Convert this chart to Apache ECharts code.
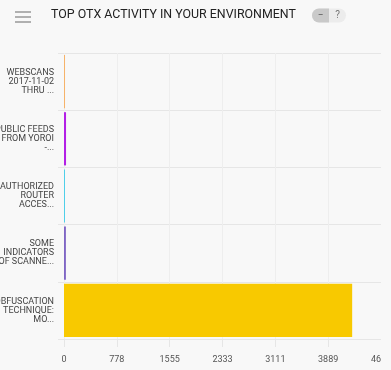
<!DOCTYPE html>
<html>
<head>
<meta charset="utf-8">
<script src="https://cdn.jsdelivr.net/npm/echarts@6/dist/echarts.min.js"></script>
<style>
  html, body { margin: 0; padding: 0; background: #f8f8f8; }
  #wrap { position: absolute; left: 0; top: 0; width: 381px; height: 370px; overflow: hidden; }
  #chart { width: 420px; height: 370px; }
</style>
</head>
<body>
<div id="wrap"><div id="chart"></div></div>
<script>
const categories = [
  "WEBSCANS\n2017-11-02\nTHRU ...",
  "PUBLIC FEEDS\nFROM YOROI\n-...",
  "UNAUTHORIZED\nROUTER\nACCES...",
  "SOME\nINDICATORS\nOF SCANNE...",
  "OBFUSCATION\nTECHNIQUE:\nMO..."
];
const values = [15, 30, 12, 28, 4242];
const barColors = ["#f6b36a", "#b320e6", "#2ac8e8", "#7f66c4", "#f8c900"];
const titleText = "TOP OTX ACTIVITY IN YOUR ENVIRONMENT";
const axisMax = 4666.3;

const chart = echarts.init(document.getElementById('chart'), null, { renderer: 'canvas' });
const lineCol = '#e6e6e6';
chart.setOption({
  backgroundColor: '#f8f8f8',
  animation: false,
  grid: { left: 64, top: 53, width: 317, height: 286, containLabel: false, outerBoundsMode: 'none' },
  xAxis: {
    type: 'value',
    min: 0,
    max: axisMax,
    interval: axisMax / 6,
    axisLine: { show: true, lineStyle: { color: lineCol, width: 1 } },
    axisTick: { show: true, length: 8, lineStyle: { color: lineCol } },
    splitLine: { show: true, lineStyle: { color: '#eeeeee' } },
    axisLabel: {
      color: '#555', fontFamily: 'Roboto', fontSize: 9, margin: 16,
      showMaxLabel: true, hideOverlap: false,
      formatter: v => String(Math.round(v))
    }
  },
  yAxis: {
    type: 'category',
    inverse: true,
    data: categories,
    axisLine: { show: false },
    axisTick: { show: true, length: 6, lineStyle: { color: lineCol } },
    splitLine: { show: true, lineStyle: { color: lineCol } },
    axisLabel: {
      color: '#444', fontFamily: 'Roboto', fontSize: 9, lineHeight: 9, margin: 10, align: 'right'
    }
  },
  series: [{
    type: 'bar',
    barCategoryGap: '7%',
    data: values.map((v, i) => ({ value: v, itemStyle: { color: barColors[i] } }))
  }],
  graphic: [
    { type: 'rect', shape: { x: 15, y: 11, width: 16, height: 2 }, style: { fill: '#b0b0b0' } },
    { type: 'rect', shape: { x: 15, y: 16, width: 16, height: 2 }, style: { fill: '#b0b0b0' } },
    { type: 'rect', shape: { x: 15, y: 21, width: 16, height: 2 }, style: { fill: '#b0b0b0' } },
    { type: 'text', left: 51, top: 9, style: { text: titleText, fill: '#222', font: '12.4px Roboto' } },
    { type: 'rect', shape: { x: 312, y: 8.5, width: 34, height: 14, r: 7 }, style: { fill: '#ececec' } },
    { type: 'rect', shape: { x: 312, y: 8.5, width: 17, height: 14, r: [7, 0, 0, 7] }, style: { fill: '#c9c9c9' } },
    { type: 'text', x: 320.5, y: 15.5, style: { text: '−', fill: '#555', font: '10px Roboto', align: 'center', verticalAlign: 'middle' } },
    { type: 'text', x: 337.5, y: 15.5, style: { text: '?', fill: '#777', font: '10px Roboto', align: 'center', verticalAlign: 'middle' } }
  ]
});
</script>
</body>
</html>
